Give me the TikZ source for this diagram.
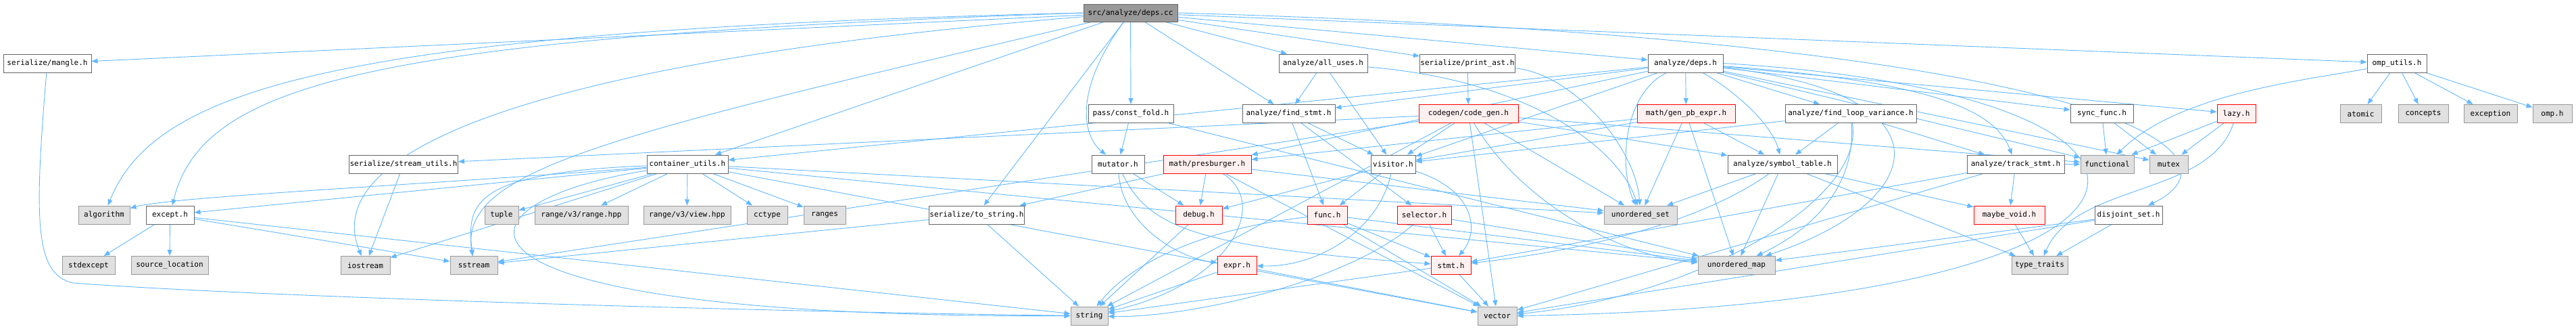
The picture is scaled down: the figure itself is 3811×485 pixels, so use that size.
\documentclass[tikz,border=0pt]{standalone}
\usepackage{fontspec}
\newfontfamily\hdrfont{DejaVu Sans Mono}
\usepackage{tikz}
\usetikzlibrary{arrows.meta,backgrounds}
\definecolor{edgeblue}{HTML}{63B8FF}
\definecolor{boxgray}{HTML}{666666}
\definecolor{sysgray}{HTML}{999999}
\definecolor{sysfill}{HTML}{E0E0E0}
\definecolor{cutfill}{HTML}{FFF0F0}

\begin{document}
\begin{tikzpicture}[x=1pt, y=1pt,
    header/.style={rectangle, draw=boxgray, fill=white, line width=1pt, minimum height=27pt, inner xsep=1pt, font=\hdrfont\fontsize{11}{13}\selectfont},
    syshdr/.style={header, draw=sysgray, fill=sysfill},
    cuthdr/.style={header, draw=red, fill=cutfill},
    mainhdr/.style={header, fill=sysgray, minimum height=26pt},
    incl/.style={-{Triangle[length=9pt,width=7pt]}, draw=edgeblue, line width=0.9pt}
  ]
    \useasboundingbox (0,0) rectangle (3811,-485);
    \node[mainhdr, minimum width=139pt] (cc) at (1672.5,-19) {src/analyze/deps.cc};
    \node[header, minimum width=130pt] (mangle) at (70,-93.5) {serialize/mangle.h};
    \node[header, minimum width=131pt] (alluses) at (1957.5,-93.5) {analyze/all\_uses.h};
    \node[header, minimum width=136pt] (printast) at (2171,-93.5) {serialize/print\_ast.h};
    \node[header, minimum width=111pt] (depsh) at (2493.5,-93.5) {analyze/deps.h};
    \node[header, minimum width=88pt] (omputils) at (3546,-93.5) {omp\_utils.h};
    \node[header, minimum width=126pt] (constfold) at (1673,-168) {pass/const\_fold.h};
    \node[header, minimum width=137pt] (findstmt) at (1906.5,-168) {analyze/find\_stmt.h};
    \node[cuthdr, minimum width=147pt] (codegen) at (2172.5,-168) {codegen/code\_gen.h};
    \node[cuthdr, minimum width=145pt] (genpb) at (2494.5,-168) {math/gen\_pb\_expr.h};
    \node[header, minimum width=194pt] (findloop) at (2738,-168) {analyze/find\_loop\_variance.h};
    \node[header, minimum width=93pt] (syncfunc) at (3109.5,-168) {sync\_func.h};
    \node[cuthdr, minimum width=57pt] (lazy) at (3308.5,-168) {lazy.h};
    \node[syshdr, minimum width=61pt] (atomic) at (3492.5,-168) {atomic};
    \node[syshdr, minimum width=74pt] (concepts) at (3585,-168) {concepts};
    \node[syshdr, minimum width=79pt] (exception) at (3684.5,-168) {exception};
    \node[syshdr, minimum width=58pt] (omph) at (3776,-168) {omp.h};
    \node[header, minimum width=156pt] (streamutils) at (597,-242.5) {serialize/stream\_utils.h};
    \node[header, minimum width=120pt] (contutils) at (1017,-242.5) {container\_utils.h};
    \node[header, minimum width=78pt] (mutator) at (1654,-242.5) {mutator.h};
    \node[cuthdr, minimum width=130pt] (presb) at (1786,-242.5) {math/presburger.h};
    \node[header, minimum width=66pt] (visitor) at (2061,-242.5) {visitor.h};
    \node[header, minimum width=162pt] (symtab) at (2637,-242.5) {analyze/symbol\_table.h};
    \node[header, minimum width=144pt] (trackstmt) at (2982,-242.5) {analyze/track\_stmt.h};
    \node[syshdr, minimum width=79pt] (functional) at (3117.5,-242.5) {functional};
    \node[syshdr, minimum width=57pt] (mutex) at (3208.5,-242.5) {mutex};
    \node[syshdr, minimum width=76pt] (algorithm) at (154,-317.5) {algorithm};
    \node[header, minimum width=71pt] (except) at (251.5,-317.5) {except.h};
    \node[syshdr, minimum width=50pt] (tuple) at (742,-317.5) {tuple};
    \node[syshdr, minimum width=138pt] (rangehpp) at (860,-317.5) {range/v3/range.hpp};
    \node[syshdr, minimum width=129pt] (viewhpp) at (1016.5,-317.5) {range/v3/view.hpp};
    \node[syshdr, minimum width=60pt] (cctype) at (1135,-317.5) {cctype};
    \node[syshdr, minimum width=62pt] (ranges) at (1220,-317.5) {ranges};
    \node[header, minimum width=136pt] (tostring) at (1445,-317.5) {serialize/to\_string.h};
    \node[cuthdr, minimum width=69pt] (debug) at (1773.5,-317.5) {debug.h};
    \node[cuthdr, minimum width=59pt] (func) at (1963.5,-317.5) {func.h};
    \node[cuthdr, minimum width=80pt] (selector) at (2107,-317.5) {selector.h};
    \node[syshdr, minimum width=108pt] (uset) at (2427,-317.5) {unordered\_set};
    \node[cuthdr, minimum width=105pt] (maybevoid) at (2972.5,-317.5) {maybe\_void.h};
    \node[header, minimum width=100pt] (disjoint) at (3149,-317.5) {disjoint\_set.h};
    \node[syshdr, minimum width=78pt] (stdexcept) at (131,-392) {stdexcept};
    \node[syshdr, minimum width=114pt] (srcloc) at (251,-392) {source\_location};
    \node[syshdr, minimum width=73pt] (iostream) at (540.5,-392) {iostream};
    \node[syshdr, minimum width=70pt] (sstream) at (701,-392) {sstream};
    \node[cuthdr, minimum width=58pt] (expr) at (1830,-392) {expr.h};
    \node[cuthdr, minimum width=59pt] (stmt) at (2146.5,-392) {stmt.h};
    \node[syshdr, minimum width=114pt] (umap) at (2569,-392) {unordered\_map};
    \node[syshdr, minimum width=83pt] (typetraits) at (3017.5,-392) {type\_traits};
    \node[syshdr, minimum width=55pt] (string) at (1611.5,-466.5) {string};
    \node[syshdr, minimum width=58pt] (vector) at (2215,-466.5) {vector};
    \begin{scope}[on background layer]
    \draw[incl] (cc) -- (mangle);
    \draw[incl] (cc.west) .. controls (500,-45) and (230,-130) .. (algorithm);
    \draw[incl] (cc.west) .. controls (560,-55) and (300,-120) .. (except);
    \draw[incl] (cc) -- (contutils);
    \draw[incl] (cc) .. controls (800,-90) and (470,-220) .. (iostream);
    \draw[incl] (cc) .. controls (900,-200) and (680,-250) .. (sstream);
    \draw[incl] (cc) -- (constfold);
    \draw[incl] (cc) .. controls (1590,-130) and (1600,-200) .. (mutator);
    \draw[incl] (cc) -- (tostring);
    \draw[incl] (cc) -- (findstmt);
    \draw[incl] (cc) -- (alluses);
    \draw[incl] (cc) -- (printast);
    \draw[incl] (cc) -- (depsh);
    \draw[incl] (cc) -- (omputils);
    \draw[incl] (cc.east) .. controls (3150,-60) and (3330,-230) .. (disjoint);
    \draw[incl] (mangle) .. controls (50,-330) and (52,-405) .. (108,-418) .. controls (400,-440) and (1200,-462) .. (string);
    \draw[incl] (except) -- (stdexcept);
    \draw[incl] (except) -- (srcloc);
    \draw[incl] (except) -- (sstream);
    \draw[incl] (except) -- (string);
    \draw[incl] (streamutils) -- (iostream);
    \draw[incl] (contutils) .. controls (600,-275) and (260,-290) .. (algorithm);
    \draw[incl] (contutils) -- (except);
    \draw[incl] (contutils) -- (iostream);
    \draw[incl] (contutils) .. controls (700,-255) and (690,-300) .. (sstream);
    \draw[incl] (contutils) .. controls (650,-300) and (600,-470) .. (string);
    \draw[incl] (contutils) -- (tuple);
    \draw[incl] (contutils) -- (rangehpp);
    \draw[incl] (contutils) -- (viewhpp);
    \draw[incl] (contutils) -- (cctype);
    \draw[incl] (contutils) -- (ranges);
    \draw[incl] (contutils) -- (uset);
    \draw[incl] (contutils) -- (umap);
    \draw[incl] (contutils) -- (vector);
    \draw[incl] (constfold) -- (mutator);
    \draw[incl] (constfold) -- (umap);
    \draw[incl] (mutator) -- (debug);
    \draw[incl] (mutator) .. controls (1660,-330) and (1740,-380) .. (expr);
    \draw[incl] (mutator) .. controls (1700,-340) and (1780,-365) .. (stmt);
    \draw[incl] (presb) -- (debug);
    \draw[incl] (presb) -- (tostring);
    \draw[incl] (presb) .. controls (1880,-300) and (1820,-420) .. (string);
    \draw[incl] (presb) -- (vector);
    \draw[incl] (presb) -- (uset);
    \draw[incl] (tostring) -- (sstream);
    \draw[incl] (tostring) -- (string);
    \draw[incl] (debug) -- (string);
    \draw[incl] (expr) -- (string);
    \draw[incl] (expr) -- (vector);
    \draw[incl] (func) -- (stmt);
    \draw[incl] (func) -- (vector);
    \draw[incl] (func) .. controls (1800,-335) and (1680,-380) .. (string);
    \draw[incl] (func) -- (umap);
    \draw[incl] (selector) -- (stmt);
    \draw[incl] (selector) .. controls (1990,-420) and (1750,-470) .. (string);
    \draw[incl] (selector) -- (umap);
    \draw[incl] (stmt) -- (vector);
    \draw[incl] (stmt) -- (string);
    \draw[incl] (visitor) -- (func);
    \draw[incl] (visitor) .. controls (2180,-280) and (2190,-340) .. (stmt);
    \draw[incl] (visitor) .. controls (2040,-340) and (1950,-395) .. (expr);
    \draw[incl] (visitor) -- (debug);
    \draw[incl] (alluses) -- (findstmt);
    \draw[incl] (alluses) -- (visitor);
    \draw[incl] (alluses) .. controls (2280,-120) and (2400,-230) .. (uset);
    \draw[incl] (printast) -- (codegen);
    \draw[incl] (printast) .. controls (2330,-110) and (2420,-220) .. (uset);
    \draw[incl] (codegen) -- (visitor);
    \draw[incl] (codegen) -- (vector);
    \draw[incl] (codegen) -- (uset);
    \draw[incl] (codegen) .. controls (2250,-300) and (2400,-380) .. (umap);
    \draw[incl] (codegen) -- (functional);
    \draw[incl] (codegen) -- (symtab);
    \draw[incl] (codegen) -- (streamutils);
    \draw[incl] (codegen) -- (sstream);
    \draw[incl] (codegen) -- (string);
    \draw[incl] (findstmt) -- (func);
    \draw[incl] (findstmt) -- (visitor);
    \draw[incl] (findstmt) -- (selector);
    \draw[incl] (depsh) -- (genpb);
    \draw[incl] (depsh) .. controls (2560,-130) and (2620,-180) .. (symtab);
    \draw[incl] (depsh) -- (findloop);
    \draw[incl] (depsh) .. controls (2850,-120) and (2950,-160) .. (trackstmt);
    \draw[incl] (depsh) .. controls (2400,-140) and (2395,-250) .. (uset);
    \draw[incl] (depsh) -- (functional);
    \draw[incl] (depsh) -- (mutex);
    \draw[incl] (depsh) -- (syncfunc);
    \draw[incl] (depsh) -- (lazy);
    \draw[incl] (depsh) .. controls (2900,-140) and (2850,-300) .. (umap);
    \draw[incl] (depsh.east) .. controls (3330,-140) and (3290,-450) .. (vector.east);
    \draw[incl] (depsh) -- (visitor);
    \draw[incl] (depsh) -- (findstmt);
    \draw[incl] (depsh) -- (contutils);
    \draw[incl] (depsh) -- (presb);
    \draw[incl] (genpb) -- (presb);
    \draw[incl] (genpb) -- (symtab);
    \draw[incl] (genpb) -- (uset);
    \draw[incl] (genpb) -- (umap);
    \draw[incl] (genpb) -- (visitor);
    \draw[incl] (findloop) -- (symtab);
    \draw[incl] (findloop) .. controls (2745,-260) and (2700,-330) .. (umap);
    \draw[incl] (findloop) .. controls (2760,-300) and (2500,-440) .. (vector);
    \draw[incl] (findloop) -- (trackstmt);
    \draw[incl] (findloop) -- (visitor);
    \draw[incl] (symtab) -- (uset);
    \draw[incl] (symtab) -- (umap);
    \draw[incl] (symtab) -- (maybevoid);
    \draw[incl] (symtab) -- (typetraits);
    \draw[incl] (symtab) .. controls (2500,-340) and (2300,-375) .. (stmt);
    \draw[incl] (trackstmt) -- (maybevoid);
    \draw[incl] (trackstmt) -- (stmt);
    \draw[incl] (trackstmt) -- (functional);
    \draw[incl] (trackstmt) -- (vector);
    \draw[incl] (maybevoid) -- (typetraits);
    \draw[incl] (disjoint) -- (typetraits);
    \draw[incl] (disjoint) -- (umap);
    \draw[incl] (disjoint) -- (vector);
    \draw[incl] (lazy) -- (functional);
    \draw[incl] (lazy) -- (mutex);
    \draw[incl] (lazy) .. controls (3270,-290) and (3070,-270) .. (typetraits);
    \draw[incl] (syncfunc) -- (functional);
    \draw[incl] (syncfunc) -- (mutex);
    \draw[incl] (omputils) -- (atomic);
    \draw[incl] (omputils) -- (concepts);
    \draw[incl] (omputils) -- (exception);
    \draw[incl] (omputils) -- (omph);
    \draw[incl] (omputils) .. controls (3400,-120) and (3220,-140) .. (functional);
    \end{scope}
  \end{tikzpicture}
\end{document}
